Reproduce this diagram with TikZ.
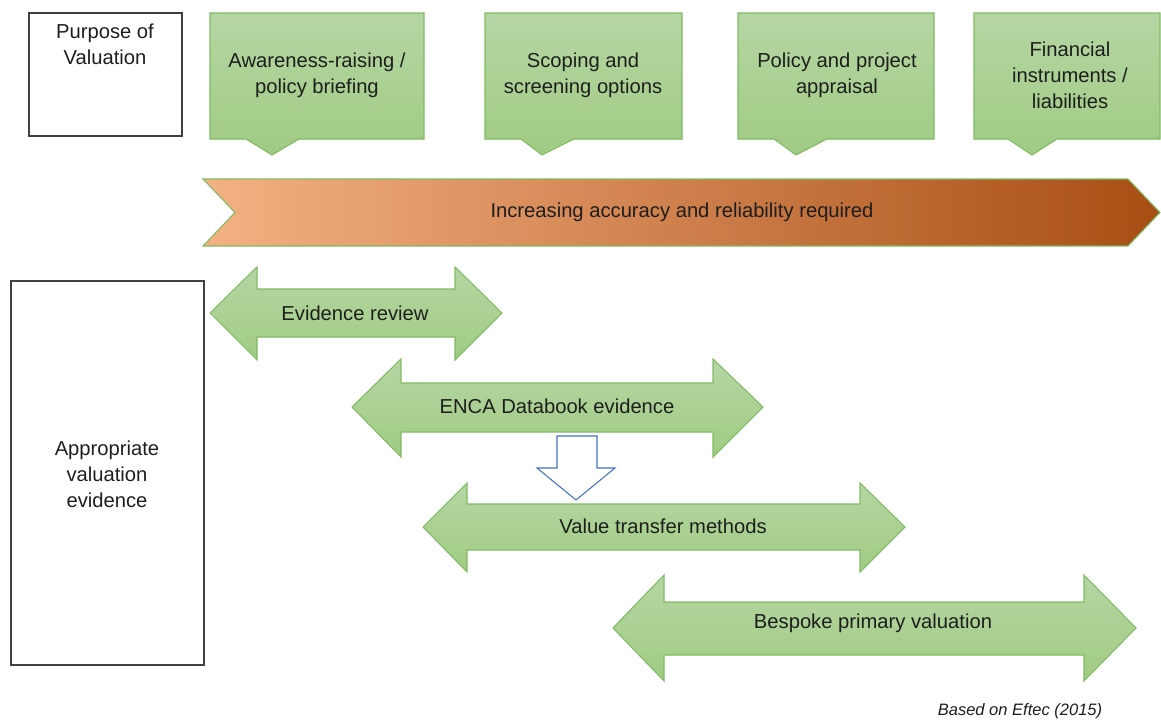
\documentclass[tikz,border=0pt]{standalone}
\usepackage{fontspec}
\setmainfont{Liberation Sans}
\usepackage{tikz}

\definecolor{leafgreen}{RGB}{181,214,163}
\definecolor{leafgreendark}{RGB}{160,203,131}
\definecolor{leafline}{RGB}{128,188,98}
\definecolor{peach}{RGB}{244,177,131}
\definecolor{peachmid}{RGB}{232,156,105}
\definecolor{rust}{RGB}{168,78,20}
\definecolor{hollowblue}{RGB}{68,114,196}
\definecolor{boxline}{RGB}{64,64,64}
\definecolor{inktext}{RGB}{30,30,30}

\tikzset{
	purposebox/.style={fill=leafgreen, top color=leafgreen, bottom color=leafgreendark, draw=leafline, line width=0.6pt},
	evidarrow/.style={top color=leafgreen, bottom color=leafgreendark, draw=leafline, line width=0.6pt},
	plainbox/.style={draw=boxline, line width=0.6pt},
	label/.style={text=inktext, align=center, font=\fontsize{11.5}{14.7}\selectfont}
}

\begin{document}
\begin{tikzpicture}[x=0.02cm, y=-0.02cm]
			%%%	Help Lines
%			\draw [thin, help lines, step=50] (0,0) grid (1161,720);
			\useasboundingbox (0,0) rectangle (1161,720);
			%%%	Purpose row
			\draw[plainbox] (29,13) rectangle (182,136);
			\node[label] (purpose) at (105,44) {Purpose of\\Valuation};
			\draw[purposebox] (210,13) -- (424,13) -- (424,139) -- (299,139) -- (272,155) -- (246,139) -- (210,139) -- cycle;
			\node[label] (aware) at (317,75) {Awareness-raising /\\policy briefing};
			\draw[purposebox] (485,13) -- (682,13) -- (682,139) -- (574,139) -- (542,155) -- (521,139) -- (485,139) -- cycle;
			\node[label] (scoping) at (583,75) {Scoping and\\screening options};
			\draw[purposebox] (738,13) -- (934,13) -- (934,139) -- (827,139) -- (796,155) -- (774,139) -- (738,139) -- cycle;
			\node[label] (appraisal) at (837,75) {Policy and project\\appraisal};
			\draw[purposebox] (974,13) -- (1160,13) -- (1160,139) -- (1057,139) -- (1032,155) -- (1008,139) -- (974,139) -- cycle;
			\node[label] (financial) at (1070,75) {Financial\\instruments /\\liabilities};
			%%%	Chevron
			\draw[draw=leafline, line width=0.6pt, left color=peach, middle color=peachmid, right color=rust]
				(203,179) -- (1128,179) -- (1160,212.5) -- (1128,246) -- (203,246) -- (235,212.5) -- cycle;
			\node[label] (accuracy) at (682,212) {Increasing accuracy and reliability required};
			%%%	Evidence row
			\draw[plainbox] (11,281) rectangle (204,665);
			\node[label] (appropriate) at (107,474) {Appropriate\\valuation\\evidence};
			\draw[evidarrow] (210,313) -- (257,267) -- (257,289) -- (455,289) -- (455,267) -- (502,313)
				-- (455,360) -- (455,337) -- (257,337) -- (257,360) -- cycle;
			\node[label] (review) at (355,313) {Evidence review};
			\draw[evidarrow] (352,407) -- (401,359) -- (401,383) -- (713,383) -- (713,359) -- (763,407)
				-- (713,457) -- (713,432) -- (401,432) -- (401,457) -- cycle;
			\node[label] (databook) at (557,406) {ENCA Databook evidence};
			\draw[evidarrow] (423,527) -- (467,483) -- (467,504) -- (860,504) -- (860,483) -- (905,527)
				-- (860,572) -- (860,550) -- (467,550) -- (467,572) -- cycle;
			\node[label] (transfer) at (663,526) {Value transfer methods};
			\draw[evidarrow] (613,628) -- (664,575) -- (664,602) -- (1084,602) -- (1084,575) -- (1136,628)
				-- (1084,681) -- (1084,655) -- (664,655) -- (664,681) -- cycle;
			\node[label] (bespoke) at (873,623) {Bespoke primary valuation};
			%%%	Hollow arrow
			\draw[draw=hollowblue, fill=white, line width=0.6pt] (557,436) -- (597,436) -- (597,468) -- (615,468)
				-- (576,500) -- (537,468) -- (557,468) -- cycle;
			\node[text=inktext, font=\fontsize{9.4}{11}\selectfont\itshape] (source) at (1020,711) {Based on Eftec (2015)};
		\end{tikzpicture}
\end{document}
